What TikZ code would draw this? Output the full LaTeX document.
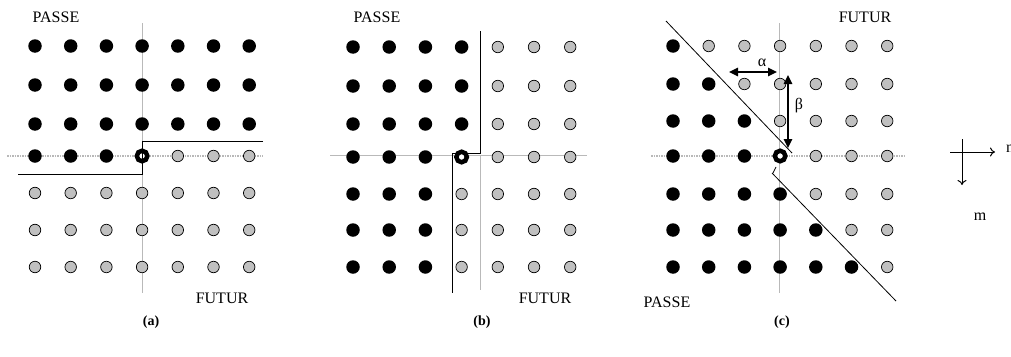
\documentclass[tikz,border=0pt]{standalone}
\usepackage{fontspec}
\setmainfont{Liberation Serif}
\usetikzlibrary{arrows.meta}
\definecolor{dotgray}{RGB}{192,192,192}
\definecolor{axisgray}{RGB}{185,185,185}
\tikzset{
  dotb/.style={circle, fill=black, inner sep=0pt, minimum size=13.5pt},
  dotg/.style={circle, fill=dotgray, draw=black, line width=0.7pt, inner sep=0pt, minimum size=11.5pt},
  doto/.style={circle, fill=white, draw=black, line width=4.5pt, inner sep=0pt, minimum size=10.5pt},
  axisline/.style={axisgray, line width=1pt},
  axisdotted/.style={axisgray, line width=1.3pt, dash pattern=on 1.5pt off 1pt},
  border/.style={black, line width=0.9pt},
  lbl/.style={font=\fontsize{16}{18}\selectfont, inner sep=0pt},
  caption/.style={font=\fontsize{14}{16}\selectfont\bfseries, inner sep=0pt},
  dimarrow/.style={{Triangle[length=9pt,width=8.5pt]}-{Triangle[length=9pt,width=8.5pt]}, line width=1.6pt},
  refarrow/.style={-{To[length=5pt,width=9pt]}, line width=1pt},
}
% grid of points: #1 name prefix, #2 first column x, #3 column step, #4 rows
\newcommand{\pointgrid}[4]{%
  \foreach \yy/\types [count=\r] in {#4} {
    \foreach \t [count=\c] in \types {
      \pgfmathsetmacro{\xx}{#2+(\c-1)*#3}
      \node[dot\t] (#1-\r-\c) at (\xx,\yy) {};
    }
  }%
}
\begin{document}
\begin{tikzpicture}[x=1pt,y=-1pt]
\useasboundingbox (0,0) rectangle (1011,356);

% ---------- (a) ----------
\draw[axisline] (142,23) -- (142,293);
\draw[axisdotted] (7,156) -- (263,156);
\pointgrid{a}{35}{35.7}{46/{b,b,b,b,b,b,b},85/{b,b,b,b,b,b,b},124/{b,b,b,b,b,b,b},156/{b,b,b,o,g,g,g},193/{g,g,g,g,g,g,g},230/{g,g,g,g,g,g,g},267/{g,g,g,g,g,g,g}}
\coordinate (aR) at (263,141);
\coordinate (aL) at (18,174);
\draw[border] (aR) -- (142,141) -- (142,174) -- (aL);
\node[lbl] (apasse) at (56,17) {PASSE};
\node[lbl] (afutur) at (222,298) {FUTUR};
\node[caption] (acap) at (151,322) {(a)};

% ---------- (b) ----------
\draw[axisline] (330,155) -- (587,155);
\draw[axisline] (480,155) -- (480,290);
\pointgrid{b}{353}{36.2}{47/{b,b,b,b,g,g,g},86/{b,b,b,b,g,g,g},124/{b,b,b,b,g,g,g},157/{b,b,b,o,g,g,g},194/{b,b,b,g,g,g,g},230/{b,b,b,g,g,g,g},267/{b,b,b,g,g,g,g}}
\coordinate (bT) at (480,31);
\coordinate (bB) at (452,293);
\draw[border] (bT) -- (480,153) -- (452,153) -- (bB);
\node[lbl] (bpasse) at (377,17) {PASSE};
\node[lbl] (bfutur) at (545,298) {FUTUR};
\node[caption] (bcap) at (482,322) {(b)};

% ---------- (c) ----------
\draw[axisline] (779,23) -- (779,293);
\draw[axisdotted] (651,156) -- (906,156);
\pointgrid{c}{673}{35.7}{46/{b,g,g,g,g,g,g},84/{b,b,g,g,g,g,g},121/{b,b,b,g,g,g,g},156/{b,b,b,o,g,g,g},194/{b,b,b,b,g,g,g},230/{b,b,b,b,b,g,g},267/{b,b,b,b,b,b,g}}
\coordinate (cT1) at (666,21);
\coordinate (cT2) at (792,153);
\coordinate (cB1) at (772,173);
\coordinate (cB2) at (896,301);
\draw[border, line width=0.8pt] (cT1) -- (cT2);
\draw[border, line width=0.8pt] (cB1) -- (cB2);
\draw[border, line width=0.8pt] (773,173) -- (776,167);
\coordinate (alphaL) at (729,72);
\coordinate (alphaR) at (777,72);
\draw[dimarrow] (alphaL) -- (alphaR);
\node[lbl] (alpha) at (762,63) {α};
\coordinate (betaT) at (788,75);
\coordinate (betaB) at (788,148);
\draw[dimarrow] (betaT) -- (betaB);
\node[lbl] (beta) at (799,106) {β};
\node[lbl] (cfutur) at (865,17) {FUTUR};
\node[lbl] (cpasse) at (667,302) {PASSE};
\node[caption] (ccap) at (782,322) {(c)};

% ---------- reference axes ----------
\coordinate (o1) at (950,152);
\coordinate (n1) at (995,152);
\coordinate (o2) at (962,139);
\coordinate (m1) at (962,185);
\draw[refarrow] (o1) -- (n1);
\draw[refarrow] (o2) -- (m1);
\node[lbl, anchor=west] (nlab) at (1006,149) {n};
\node[lbl] (mlab) at (980,217) {m};
\end{tikzpicture}
\end{document}
